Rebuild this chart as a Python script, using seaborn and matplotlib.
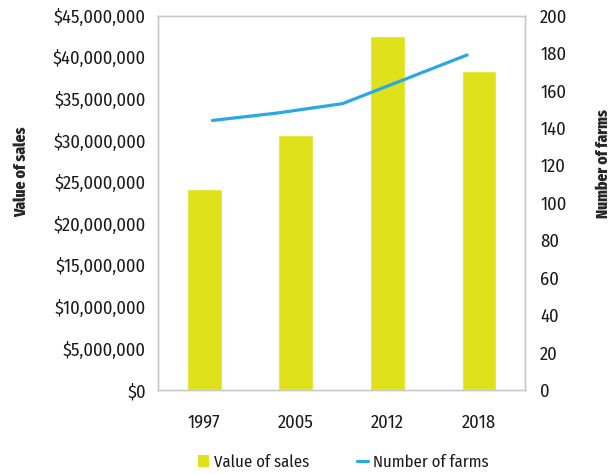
import matplotlib
matplotlib.use("Agg")
import matplotlib.pyplot as plt
from matplotlib.patches import Patch
from matplotlib.lines import Line2D
from matplotlib.ticker import FuncFormatter, MultipleLocator
import seaborn as sns
import pandas as pd

years = ["1997", "2005", "2012", "2018"]
sales = [24200000, 30700000, 42500000, 38300000]
farms = [144, 148, 153, 179]
# position of each farm count along the year axis
farm_pos = [0.09, 0.80, 1.51, 2.87]

bar_color = "#DFE21B"
line_color = "#2AA8E0"
frame_color = "#C9C9C9"
text_color = "#1a1a1a"

sns.set_theme(style="white")
plt.rcParams["font.family"] = ["Fira Sans Condensed", "DejaVu Sans"]
plt.rcParams["text.color"] = text_color
plt.rcParams["xtick.color"] = text_color
plt.rcParams["ytick.color"] = text_color

tick_size = 13.3
label_font = dict(family=["Fira Sans Extra Condensed", "DejaVu Sans"],
                  fontsize=12.2, fontweight=800)

df = pd.DataFrame({"year": years, "sales": sales})
df_line = pd.DataFrame({"pos": farm_pos, "farms": farms})

fig = plt.figure(figsize=(6.16, 4.74), dpi=100)
ax = fig.add_axes([0.257, 0.177, 0.595, 0.79])

sns.barplot(data=df, x="year", y="sales", color=bar_color, width=0.38,
            saturation=1, ax=ax)
ax.set_ylim(0, 45000000)
ax.set_xlim(-0.5, 3.5)
ax.yaxis.set_major_locator(MultipleLocator(5000000))
ax.yaxis.set_major_formatter(FuncFormatter(lambda v, p: f"${v:,.0f}"))
ax.set_xlabel("")
ax.set_ylabel("Value of sales", **label_font)
ax.yaxis.set_label_coords(-0.35, 0.582)
ax.tick_params(axis="y", length=0, pad=9, labelsize=tick_size)
ax.tick_params(axis="x", length=0, pad=17, labelsize=tick_size)

ax2 = ax.twinx()
sns.lineplot(data=df_line, x="pos", y="farms", color=line_color,
             linewidth=2.3, ax=ax2)
ax2.set_ylim(0, 200)
ax2.yaxis.set_major_locator(MultipleLocator(20))
ax2.set_ylabel("Number of farms", **label_font)
ax2.yaxis.set_label_coords(1.194, 0.606)
ax2.tick_params(axis="y", length=0, pad=11, labelsize=tick_size)
ax2.set_xlim(-0.5, 3.5)

for a in (ax, ax2):
    for s in a.spines.values():
        s.set_color(frame_color)
        s.set_linewidth(1.0)

handles = [
    Patch(facecolor=bar_color, edgecolor="none", label="Value of sales"),
    Line2D([], [], color=line_color, linewidth=2.3, label="Number of farms"),
]
fig.legend(handles=handles, loc="center", bbox_to_anchor=(0.557, 0.025),
           ncol=2, frameon=False, fontsize=12, handlelength=0.65,
           handleheight=0.8, handletextpad=0.3, columnspacing=2.9)

fig.savefig("out.png", dpi=100)
